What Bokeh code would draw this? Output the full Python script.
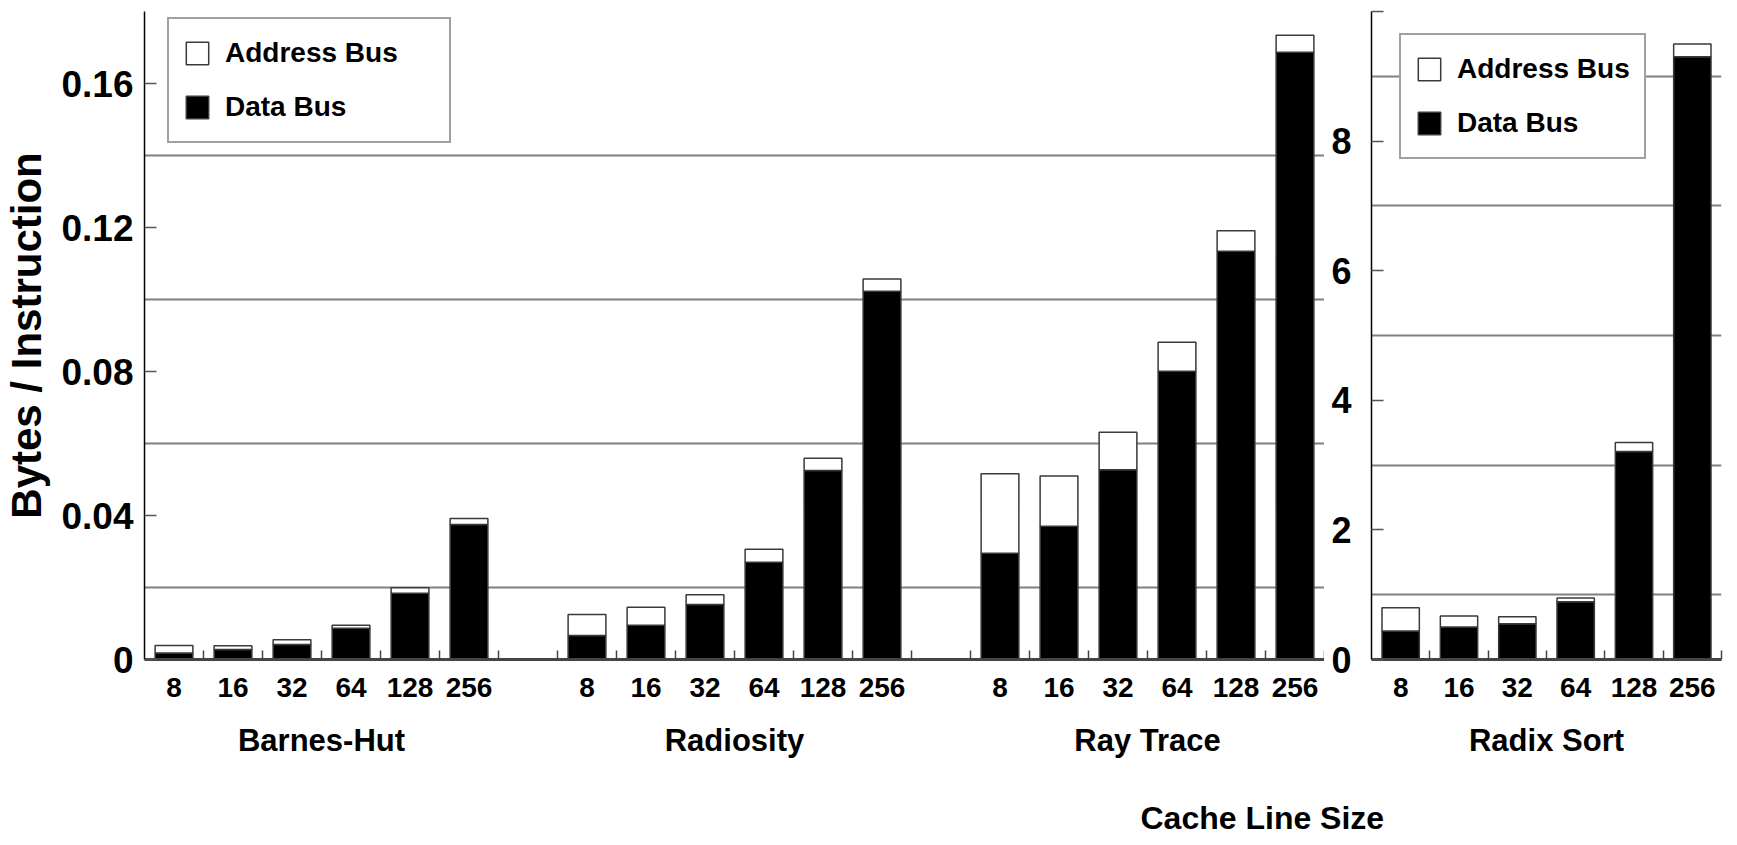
from bokeh.plotting import figure
from bokeh.models import (Range1d, LinearAxis, FixedTicker, ColumnDataSource,
                          Legend, LegendItem, Label)
from bokeh.core.properties import value
from bokeh.layouts import row, column
from bokeh.embed import file_html
from bokeh.resources import INLINE

# ---------------- data ----------------
GROUPS = ["Barnes-Hut", "Radiosity", "Ray Trace"]
RADIX_GROUP = "Radix Sort"
LINE_SIZES = ["8", "16", "32", "64", "128", "256"]

BARNES_DATA = [0.0018, 0.0028, 0.0042, 0.0087, 0.0184, 0.0375]
BARNES_ADDR = [0.0021, 0.0010, 0.0013, 0.0008, 0.0015, 0.0017]
RADIOSITY_DATA = [0.0067, 0.0095, 0.0153, 0.0270, 0.0525, 0.1023]
RADIOSITY_ADDR = [0.0058, 0.0050, 0.0027, 0.0036, 0.0034, 0.0034]
RAYTRACE_DATA = [0.0295, 0.0370, 0.0527, 0.0801, 0.1134, 0.1687]
RAYTRACE_ADDR = [0.0221, 0.0140, 0.0104, 0.0080, 0.0057, 0.0047]
RADIX_DATA = [0.44, 0.50, 0.55, 0.89, 3.21, 9.30]
RADIX_ADDR = [0.36, 0.17, 0.11, 0.06, 0.14, 0.20]

SERIES_LABELS = ["Data Bus", "Address Bus"]
Y_LABEL = "Bytes / Instruction"
X_LABEL = "Cache Line Size"

LEFT_Y_TICKS = [0, 0.04, 0.08, 0.12, 0.16]
LEFT_Y_LABELS = ["0", "0.04", "0.08", "0.12", "0.16"]
LEFT_GRID = [0.02, 0.06, 0.10, 0.14, 0.18]
RADIX_Y_TICKS = [0, 2, 4, 6, 8, 10]
RADIX_Y_LABELS = ["0", "2", "4", "6", "8", ""]
RADIX_GRID = [1, 3, 5, 7, 9]

# ---------------- style ----------------
FONT = "Liberation Sans"
GRID_COLOR = "#808080"
EDGE = "#3a3a3a"
BAR_W = 0.64
FRAME_H = 648
TOP = 11
BOTTOM = 110
N = len(LINE_SIZES)


def style_common(p):
    p.outline_line_color = None
    p.background_fill_color = "white"
    p.border_fill_color = "white"
    p.xgrid.visible = False
    p.ygrid.grid_line_color = GRID_COLOR
    p.ygrid.grid_line_width = 2


def style_yaxis(a):
    a.axis_line_color = "black"
    a.axis_line_width = 1.5
    a.major_tick_in = 12
    a.major_tick_out = 0
    a.major_tick_line_color = "#555555"
    a.major_tick_line_width = 1.5
    a.minor_tick_line_color = None
    a.major_label_text_font = FONT
    a.major_label_text_font_style = "bold"
    a.major_label_text_color = "black"


def slot_layout(groups):
    """Bar centres and group centres: one empty slot between benchmarks."""
    centers, labels, gcenters = [], [], []
    for g, name in enumerate(groups):
        start = g * (N + 1)
        for i, s in enumerate(LINE_SIZES):
            centers.append(start + i + 0.5)
            labels.append(s)
        gcenters.append(start + N / 2)
    return centers, labels, gcenters


def add_bottom_axes(p, n_slots, centers, labels, gcenters, gnames):
    slot_axis = LinearAxis(ticker=FixedTicker(ticks=list(range(1, n_slots + 1))),
                           major_label_text_font_size="0px", major_label_text_alpha=0,
                           major_label_standoff=0,
                           major_tick_in=9, major_tick_out=0,
                           major_tick_line_color="#444444", major_tick_line_width=1.5,
                           minor_tick_line_color=None,
                           axis_line_color="#444444", axis_line_width=3)
    p.add_layout(slot_axis, "below")
    size_axis = LinearAxis(ticker=FixedTicker(ticks=centers),
                           major_label_overrides=dict(zip(centers, labels)),
                           axis_line_color=None, major_tick_line_color=None,
                           minor_tick_line_color=None, major_label_standoff=12,
                           major_label_text_font=FONT, major_label_text_font_size="28px",
                           major_label_text_font_style="bold", major_label_text_color="black")
    p.add_layout(size_axis, "below")
    group_axis = LinearAxis(ticker=FixedTicker(ticks=gcenters),
                            major_label_overrides=dict(zip(gcenters, gnames)),
                            axis_line_color=None, major_tick_line_color=None,
                            minor_tick_line_color=None, major_label_standoff=17,
                            major_label_text_font=FONT, major_label_text_font_size="31px",
                            major_label_text_font_style="bold", major_label_text_color="black")
    p.add_layout(group_axis, "below")


def make_legend(renderers, loc, label_width):
    data_r, addr_r = renderers
    return Legend(items=[LegendItem(label=value(SERIES_LABELS[1]), renderers=[addr_r]),
                         LegendItem(label=value(SERIES_LABELS[0]), renderers=[data_r])],
                  location=loc, orientation="vertical",
                  border_line_color="#444444", border_line_width=2,
                  background_fill_color="white", background_fill_alpha=1,
                  padding=14, spacing=14, margin=0,
                  glyph_width=28, glyph_height=28, label_standoff=14, label_height=40,
                  label_width=label_width,
                  label_text_font=FONT, label_text_font_size="28px",
                  label_text_font_style="bold", label_text_color="black")


# ---------------- left panel ----------------
left_centers, left_sizes, left_gcenters = slot_layout(GROUPS)
left_data = BARNES_DATA + RADIOSITY_DATA + RAYTRACE_DATA
left_addr = BARNES_ADDR + RADIOSITY_ADDR + RAYTRACE_ADDR
n_left_slots = len(GROUPS) * N + (len(GROUPS) - 1)

pL = figure(x_range=Range1d(0, n_left_slots), y_range=Range1d(0, 0.18),
            frame_width=1180, frame_height=FRAME_H,
            min_border_left=141, min_border_right=0, min_border_top=TOP, min_border_bottom=BOTTOM,
            x_axis_location=None, y_axis_location="left",
            output_backend="svg", toolbar_location=None)
style_common(pL)
pL.ygrid.ticker = FixedTicker(ticks=LEFT_GRID)

srcL = ColumnDataSource(dict(x=left_centers, data=left_data, addr=left_addr))
rL = pL.vbar_stack(["data", "addr"], x="x", width=BAR_W, source=srcL,
                   fill_color=["black", "white"], line_color=EDGE, line_width=1.5)

ax = pL.yaxis[0]
style_yaxis(ax)
ax.ticker = FixedTicker(ticks=LEFT_Y_TICKS)
ax.major_label_overrides = dict(zip(LEFT_Y_TICKS, LEFT_Y_LABELS))
ax.major_label_standoff = 11
ax.major_label_text_font_size = "37px"
ax.axis_label = Y_LABEL
ax.axis_label_standoff = 8
ax.axis_label_text_font = FONT
ax.axis_label_text_font_size = "42px"
ax.axis_label_text_font_style = "bold"
ax.axis_label_text_color = "black"

add_bottom_axes(pL, n_left_slots, left_centers, left_sizes, left_gcenters, GROUPS)
pL.add_layout(make_legend(rL, (23, 516), 210))

# ---------------- right panel ----------------
right_centers, right_sizes, right_gcenters = slot_layout([RADIX_GROUP])
pR = figure(x_range=Range1d(0, N), y_range=Range1d(0, 10),
            frame_width=350, frame_height=FRAME_H,
            min_border_left=47, min_border_right=3, min_border_top=TOP, min_border_bottom=BOTTOM,
            x_axis_location=None, y_axis_location="left",
            output_backend="svg", toolbar_location=None)
style_common(pR)
pR.ygrid.ticker = FixedTicker(ticks=RADIX_GRID)

srcR = ColumnDataSource(dict(x=right_centers, data=RADIX_DATA, addr=RADIX_ADDR))
rR = pR.vbar_stack(["data", "addr"], x="x", width=BAR_W, source=srcR,
                   fill_color=["black", "white"], line_color=EDGE, line_width=1.5)

ay = pR.yaxis[0]
style_yaxis(ay)
ay.ticker = FixedTicker(ticks=RADIX_Y_TICKS)
ay.major_label_overrides = dict(zip(RADIX_Y_TICKS, RADIX_Y_LABELS))
ay.major_label_standoff = 20
ay.major_label_text_font_size = "36px"

add_bottom_axes(pR, N, right_centers, right_sizes, right_gcenters, [RADIX_GROUP])
pR.add_layout(make_legend(rR, (28, 500), 160))

# ---------------- shared x-axis title strip ----------------
total_w = 141 + 1180 + 47 + 350 + 3
top_h = TOP + FRAME_H + BOTTOM
pT = figure(x_range=Range1d(0, 1), y_range=Range1d(0, 1),
            width=total_w, height=839 - top_h,
            min_border_left=0, min_border_right=0, min_border_top=0, min_border_bottom=0,
            x_axis_location=None, y_axis_location=None,
            output_backend="svg", toolbar_location=None)
pT.outline_line_color = None
pT.grid.visible = False
pT.background_fill_color = "white"
pT.border_fill_color = "white"
pT.add_layout(Label(x=1140, y=22, x_units="screen", y_units="screen", text=X_LABEL,
                    text_align="left", text_baseline="middle",
                    text_font=FONT, text_font_size="32px", text_font_style="bold",
                    text_color="black"))

layout = column(row(pL, pR, spacing=0), pT, spacing=0)
open("out.html", "w").write(file_html(layout, INLINE))
